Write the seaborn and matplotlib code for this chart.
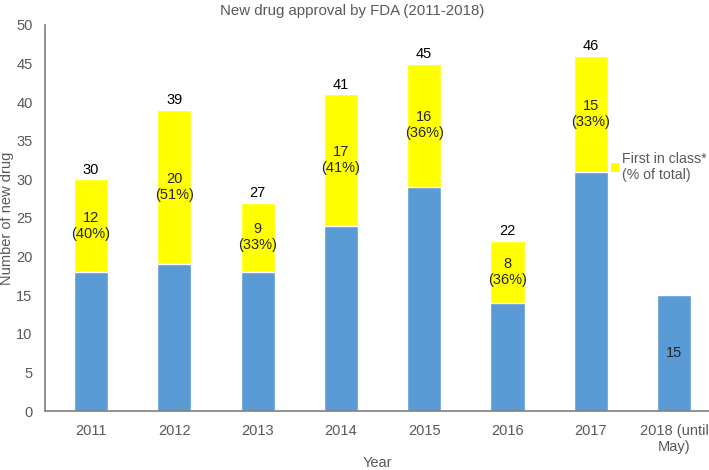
import pandas as pd
import matplotlib
matplotlib.use("Agg")
import matplotlib.pyplot as plt
import seaborn as sns
from matplotlib.patches import Patch

# data
years = ["2011", "2012", "2013", "2014", "2015", "2016", "2017", "2018 (until\nMay)"]
others = [18, 19, 18, 24, 29, 14, 31, 15]
first_in_class = [12, 20, 9, 17, 16, 8, 15, 0]
pct_labels = ["40%", "51%", "33%", "41%", "36%", "36%", "33%", ""]

totals = [a + b for a, b in zip(others, first_in_class)]
df = pd.DataFrame({"Year": years, "Others": others, "First": first_in_class, "Total": totals})

sns.set_style("white")
plt.rcParams["font.family"] = ["Liberation Sans", "DejaVu Sans"]

gray = "#595959"
fs = 10.5
fig = plt.figure(figsize=(7.09, 4.70), dpi=100)
ax = fig.add_axes([0.0635, 0.1255, 0.9365, 0.8215])

sns.barplot(data=df, x="Year", y="Total", color="#FFFF00", saturation=1, width=0.41, ax=ax)
sns.barplot(data=df, x="Year", y="Others", color="#5B9BD5", saturation=1, width=0.41, ax=ax)

for i, row in df.iterrows():
    if row["First"] > 0:
        ax.text(i, row["Total"] + 0.35, str(row["Total"]), ha="center", va="bottom", fontsize=fs, color="black")
        ax.text(i, row["Others"] + row["First"] / 2, f"{row['First']}\n({pct_labels[i]})",
                ha="center", va="center", fontsize=fs, color="#262626", linespacing=1.15)
    else:
        ax.text(i, row["Others"] / 2, str(row["Others"]), ha="center", va="center", fontsize=fs, color="#262626")

ax.set_xlim(-0.552, 7.42)
ax.set_ylim(0, 50)
ax.set_yticks(range(0, 51, 5))
ax.tick_params(axis="both", labelsize=fs, colors=gray, length=0)
ax.tick_params(axis="y", pad=9)
ax.tick_params(axis="x", pad=9)

for s in ["top", "right"]:
    ax.spines[s].set_visible(False)
for s in ["left", "bottom"]:
    ax.spines[s].set_color("#7f7f7f")
    ax.spines[s].set_linewidth(1.2)

ax.set_xlabel("Year", fontsize=fs, color=gray, labelpad=2)
ax.set_ylabel("Number of new drug", fontsize=fs, color=gray)
ax.yaxis.set_label_coords(-0.046, 0.5)
fig.text(0.497, 0.992, "New drug approval by FDA (2011-2018)", ha="center", va="top", fontsize=10.8, color=gray)

handles = [Patch(facecolor="#FFFF00", edgecolor="none", label="First in class*\n(% of total)")]
fig.legend(handles=handles, loc="upper left", bbox_to_anchor=(0.862, 0.677), frameon=False,
           fontsize=10.2, handlelength=0.55, handleheight=0.55, handletextpad=0.25, labelcolor=gray,
           borderpad=0, borderaxespad=0, labelspacing=0.2)

fig.savefig("out.png", dpi=100)
